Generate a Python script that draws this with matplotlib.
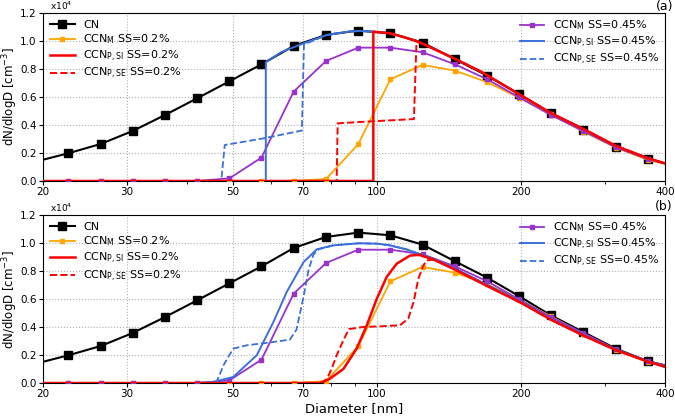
import numpy as np
import matplotlib
matplotlib.use("Agg")
import matplotlib.pyplot as plt
from matplotlib.lines import Line2D

# size bins [nm] and measured spectra (x1e4 cm^-3)
diam = [19.4, 22.6, 26.4, 30.8, 36.0, 42.0, 49.1, 57.3, 66.9, 78.2, 91.3, 106.6,
        124.5, 145.5, 170.0, 198.0, 231.0, 270.0, 316.0, 369.0, 431.0]
cn = [0.14, 0.198, 0.264, 0.357, 0.471, 0.59, 0.712, 0.833, 0.964, 1.043, 1.074, 1.055,
      0.988, 0.869, 0.752, 0.621, 0.483, 0.364, 0.245, 0.155, 0.10]
ccn_m_02 = [0.0, 0.0, 0.0, 0.0, 0.0, 0.0, 0.0, 0.0, 0.0, 0.014, 0.262, 0.726,
            0.829, 0.788, 0.705, 0.595, 0.476, 0.352, 0.238, 0.15, 0.095]
ccn_m_045 = [0.0, 0.0, 0.0, 0.0, 0.0, 0.0, 0.019, 0.167, 0.638, 0.857, 0.952, 0.952,
             0.919, 0.833, 0.726, 0.598, 0.471, 0.357, 0.24, 0.155, 0.098]

# panel (a): smooth CN fit tail, used after each activation step
fit_d = [106.3, 113.0, 121.9, 132.0, 144.7, 164.9, 199.4, 231.6, 271.0, 316.0, 369.0, 400.0]
fit_v = [1.055, 1.03, 0.995, 0.94, 0.876, 0.781, 0.614, 0.483, 0.369, 0.25, 0.162, 0.126]

a_si045_d = [20, 58.5, 58.5, 63.0, 70.2, 78.6, 87.3, 91.8, 98.2] + fit_d
a_si045_v = [0, 0, 0.848, 0.92, 0.983, 1.043, 1.067, 1.071, 1.066] + fit_v
a_se045_d = [20, 47.2, 48.0, 58.0, 69.6, 70.3, 78.6, 87.3, 91.8, 98.2] + fit_d
a_se045_v = [0, 0, 0.257, 0.305, 0.36, 0.975, 1.043, 1.067, 1.071, 1.066] + fit_v
a_si02_d = [20, 98.2, 98.2] + fit_d
a_si02_v = [0, 0, 1.066] + fit_v
a_se02_d = [20, 82.3, 82.7, 100.0, 119.4, 120.9] + fit_d[3:]
a_se02_v = [0, 0, 0.412, 0.428, 0.442, 0.995] + fit_v[3:]

# panel (b): sigmoid activation curves
b_tail_d = [131.6, 145.5, 170.6, 199.5, 231.6, 271.8, 316.0, 369.0, 400.0]
b_si02_tail = [0.88, 0.81, 0.69, 0.575, 0.45, 0.335, 0.235, 0.152, 0.116]
b_si045_tail = [0.885, 0.818, 0.698, 0.582, 0.456, 0.34, 0.239, 0.155, 0.118]

b_si02_d = [20, 76.0, 79.6, 85.0, 90.6, 95.1, 99.8, 104.7, 109.9, 117.2, 122.5] + b_tail_d
b_si02_v = [0, 0, 0.03, 0.10, 0.245, 0.41, 0.60, 0.757, 0.852, 0.91, 0.915] + b_si02_tail
b_se02_d = [20, 77.0, 78.6, 80.5, 82.3, 85.0, 87.3, 93.6, 101.4, 111.6, 116.2, 119.2,
            122.0, 125.0, 127.0] + b_tail_d
b_se02_v = [0, 0, 0.03, 0.11, 0.198, 0.305, 0.385, 0.40, 0.405, 0.412, 0.46, 0.579,
            0.745, 0.84, 0.876] + b_si02_tail

b_si045_d = [20, 42.0, 45.4, 50.0, 56.0, 60.7, 64.7, 70.2, 74.8, 81.0, 87.2, 91.8, 100.0,
             106.3, 115.0, 122.5] + b_tail_d
b_si045_v = [0, 0, 0.007, 0.043, 0.198, 0.436, 0.65, 0.864, 0.955, 0.983, 0.992, 0.998,
             0.995, 0.983, 0.955, 0.922] + b_si045_tail
b_se045_d = [20, 45.5, 46.2, 47.7, 50.0, 53.3, 60.7, 65.7, 67.8, 70.2, 71.9, 73.6, 75.5,
             81.0, 87.2, 91.8, 100.0, 106.3, 115.0, 122.5] + b_tail_d
b_se045_v = [0, 0, 0.01, 0.126, 0.245, 0.269, 0.293, 0.31, 0.38, 0.62, 0.81, 0.917, 0.955,
             0.983, 0.992, 0.998, 0.995, 0.983, 0.955, 0.922] + b_si045_tail

xticks = [20, 30, 50, 70, 100, 200, 400]
xminor = [40, 60, 80, 90, 300]

ORANGE = '#ffa500'
PURPLE = '#9932cc'
BLUE = '#3a6fdc'
RED = '#ff0000'


def draw_panel(ax, si02, se02, si045, se045):
    ax.plot(diam, cn, color='k', lw=1.5, marker='s', ms=6, zorder=2)
    ax.plot(diam, ccn_m_02, color=ORANGE, lw=1.3, marker='s', ms=3.5, zorder=3)
    ax.plot(diam, ccn_m_045, color=PURPLE, lw=1.3, marker='s', ms=3.5, zorder=4)
    ax.plot(si045[0], si045[1], color=BLUE, lw=1.4, zorder=5)
    ax.plot(se045[0], se045[1], color=BLUE, lw=1.3, ls='--', zorder=5)
    ax.plot(si02[0], si02[1], color=RED, lw=1.8, zorder=6)
    ax.plot(se02[0], se02[1], color=RED, lw=1.4, ls='--', zorder=6)

    ax.set_xscale('log')
    ax.set_xlim(20, 400)
    ax.set_ylim(0, 1.2)
    ax.set_xticks(xticks)
    ax.set_xticklabels([str(t) for t in xticks])
    ax.set_xticks(xminor, minor=True)
    ax.set_xticklabels([], minor=True)
    ax.set_yticks(np.arange(0, 1.21, 0.2))
    ax.set_yticklabels(['%.1f' % v for v in np.arange(0, 1.21, 0.2)])
    ax.tick_params(labelsize=7.5, length=3, pad=1.5)
    ax.tick_params(which='minor', length=2)
    ax.grid(True, which='major', ls=':', color='#b0b0b0', lw=0.8)
    ax.set_ylabel('dN/dlogD [cm$^{-3}$]', fontsize=8.5)
    ax.yaxis.set_label_coords(-0.037, 0.5)
    ax.text(0.012, 1.003, 'x10$^4$', transform=ax.transAxes, fontsize=6.5, ha='left', va='bottom')

    h_left = [
        Line2D([], [], color='k', lw=1.5, marker='s', ms=6),
        Line2D([], [], color=ORANGE, lw=1.3, marker='s', ms=3.5),
        Line2D([], [], color=RED, lw=1.8),
        Line2D([], [], color=RED, lw=1.4, ls='--'),
    ]
    l_left = ['CN', 'CCN$_\\mathrm{M}$ SS=0.2%', 'CCN$_\\mathrm{P,SI}$ SS=0.2%',
              'CCN$_\\mathrm{P,SE}$ SS=0.2%']
    h_right = [
        Line2D([], [], color=PURPLE, lw=1.3, marker='s', ms=3.5),
        Line2D([], [], color=BLUE, lw=1.4),
        Line2D([], [], color=BLUE, lw=1.3, ls='--'),
    ]
    l_right = ['CCN$_\\mathrm{M}$ SS=0.45%', 'CCN$_\\mathrm{P,SI}$ SS=0.45%',
               'CCN$_\\mathrm{P,SE}$ SS=0.45%']
    leg1 = ax.legend(h_left, l_left, loc='upper left', frameon=False, fontsize=8,
                     labelspacing=0.22, handlelength=2.2, handletextpad=0.75,
                     borderaxespad=0.25)
    ax.add_artist(leg1)
    ax.legend(h_right, l_right, loc='upper right', frameon=False, fontsize=8,
              labelspacing=0.22, handlelength=2.2, handletextpad=0.75, borderaxespad=0.1)


fig = plt.figure(figsize=(6.75, 4.17), dpi=100)
ax1 = fig.add_axes([0.0637, 0.566, 0.9213, 0.403])
ax2 = fig.add_axes([0.0637, 0.0815, 0.9213, 0.403])

draw_panel(ax1, (a_si02_d, a_si02_v), (a_se02_d, a_se02_v),
           (a_si045_d, a_si045_v), (a_se045_d, a_se045_v))
draw_panel(ax2, (b_si02_d, b_si02_v), (b_se02_d, b_se02_v),
           (b_si045_d, b_si045_v), (b_se045_d, b_se045_v))
ax2.set_xlabel('Diameter [nm]', fontsize=9.5, labelpad=2)

fig.text(0.997, 1.0, '(a)', fontsize=9, ha='right', va='top')
fig.text(0.997, 1 - 200 / 417, '(b)', fontsize=9, ha='right', va='top')

fig.savefig('out.png', dpi=100)
